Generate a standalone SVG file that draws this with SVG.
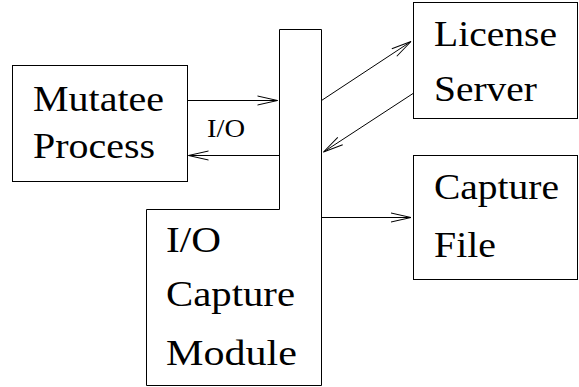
<svg xmlns="http://www.w3.org/2000/svg" width="579" height="387" viewBox="0 0 579 387">
<style>
.box{fill:#fff;stroke:#000;stroke-width:1}
.t{font-family:"Liberation Serif","Times New Roman",serif;font-size:36px;fill:#000}
.s{font-family:"Liberation Serif","Times New Roman",serif;font-size:25px;fill:#000}
.c{stroke:#000;stroke-width:1;fill:none;marker-end:url(#ah)}
</style>
<defs>
<marker id="ah" markerUnits="userSpaceOnUse" markerWidth="24" markerHeight="12" viewBox="-22 -6 24 12" refX="0" refY="0" orient="auto" overflow="visible">
<path d="M-20,-4.5 L0,0 L-20,4.5" fill="none" stroke="#000" stroke-width="1"/>
</marker>
</defs>
<rect width="579" height="387" fill="#fff"/>
<g id="mutatee">
<rect class="box" x="12.5" y="65.5" width="175" height="116"/>
<text class="t" x="33" y="111" textLength="131" lengthAdjust="spacingAndGlyphs">Mutatee</text>
<text class="t" x="33" y="158" textLength="122" lengthAdjust="spacingAndGlyphs">Process</text>
</g>
<g id="module">
<path class="box" d="M279.5,29.5 H321.5 V385.5 H146.5 V209.5 H279.5 Z"/>
<text class="t" x="166" y="252" textLength="55" lengthAdjust="spacingAndGlyphs">I/O</text>
<text class="t" x="166" y="306" textLength="129" lengthAdjust="spacingAndGlyphs">Capture</text>
<text class="t" x="166" y="365" textLength="131" lengthAdjust="spacingAndGlyphs">Module</text>
</g>
<g id="license">
<rect class="box" x="413.5" y="2.5" width="164" height="116"/>
<text class="t" x="434" y="46" textLength="123" lengthAdjust="spacingAndGlyphs">License</text>
<text class="t" x="434" y="101" textLength="103" lengthAdjust="spacingAndGlyphs">Server</text>
</g>
<g id="capturefile">
<rect class="box" x="413.5" y="155.5" width="164" height="124"/>
<text class="t" x="434" y="199" textLength="125" lengthAdjust="spacingAndGlyphs">Capture</text>
<text class="t" x="434" y="257" textLength="62" lengthAdjust="spacingAndGlyphs">File</text>
</g>
<g id="connectors">
<line class="c" x1="187.5" y1="100.5" x2="277.5" y2="100.5"/>
<line class="c" x1="279.5" y1="155.5" x2="188.5" y2="155.5"/>
<text class="s" x="207" y="137" textLength="38" lengthAdjust="spacingAndGlyphs">I/O</text>
<line class="c" x1="321.5" y1="100.5" x2="411" y2="41.5"/>
<line class="c" x1="413" y1="93.5" x2="323.5" y2="152"/>
<line class="c" x1="321.5" y1="217.5" x2="411" y2="217.5"/>
</g>
</svg>
